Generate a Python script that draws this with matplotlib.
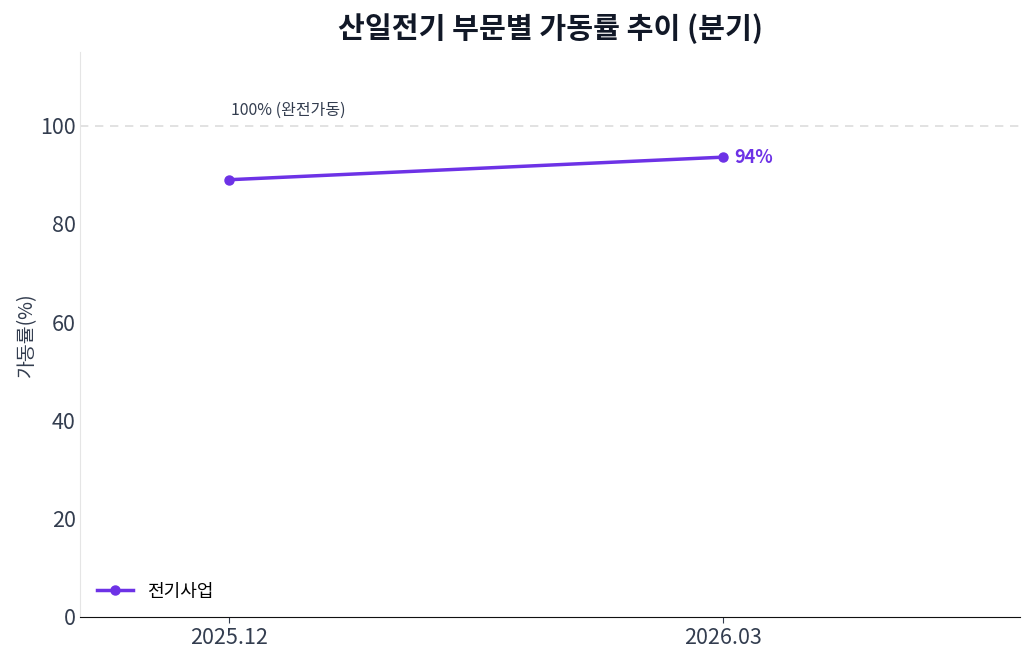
import matplotlib
matplotlib.use("Agg")
import matplotlib.pyplot as plt

plt.rcParams['font.family'] = ['Noto Sans CJK KR', 'DejaVu Sans']

periods = ["2025.12", "2026.03"]
values = [89.0, 93.6]
series_name = "전기사업"
color = "#6d32e6"
tick_color = "#333d4f"

fig = plt.figure(figsize=(10.3, 6.59), dpi=100)
ax = fig.add_axes([0.078, 0.064, 0.912, 0.857])
x = list(range(len(periods)))
ax.plot(x, values, color=color, lw=2.5, marker='o', ms=6.5, label=series_name, zorder=3)
ax.axhline(100, color="#dddddd", ls=(0, (5, 4)), lw=1.2, zorder=1)
ax.text(0.005, 101.5, "100% (완전가동)", fontsize=11.5, color=tick_color, ha='left', va='bottom')
ax.annotate(f"{values[-1]:.0f}%", (x[-1], values[-1]), xytext=(8, 0), textcoords='offset points',
            color=color, fontsize=13, fontweight='bold', va='center', ha='left')
ax.set_xlim(-0.30, 1.60)
ax.set_ylim(0, 115)
ax.set_xticks(x)
ax.set_xticklabels(periods)
ax.set_yticks([0, 20, 40, 60, 80, 100])
ax.tick_params(labelsize=15.5, colors=tick_color, length=4)
ax.tick_params(axis='y', length=0)
for s in ['top', 'right']:
    ax.spines[s].set_visible(False)
ax.spines['left'].set_color('#e5e5e5')
ax.spines['bottom'].set_color('#111111')
ax.set_ylabel("가동률(%)", fontsize=14, color=tick_color, labelpad=2)
ax.set_title("산일전기 부문별 가동률 추이 (분기)", fontsize=21, fontweight='bold', color='#111827', pad=10)
ax.legend(loc='lower left', frameon=False, fontsize=13)
fig.savefig("out.png", dpi=100)
